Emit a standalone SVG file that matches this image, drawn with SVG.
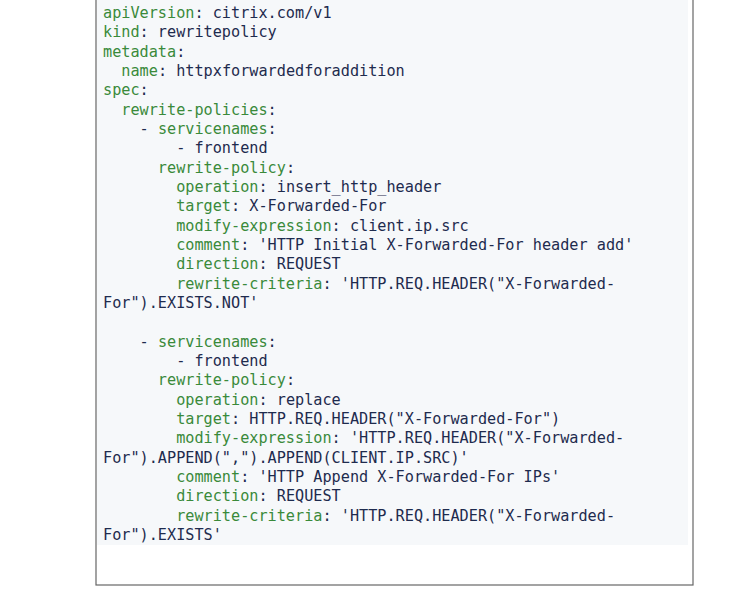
<svg xmlns="http://www.w3.org/2000/svg" width="750" height="609" viewBox="0 0 750 609">
<style>
text{font-family:"DejaVu Sans Mono","Liberation Mono",monospace;font-size:15.2px;fill:#1e2b4e;white-space:pre}
.k{fill:#3a8a3a}
</style>
<rect x="0" y="0" width="750" height="609" fill="#fff"/>
<rect x="96" y="-1" width="597" height="586" fill="#fff" stroke="#666" stroke-width="1.2"/>
<rect x="97" y="0" width="591" height="545" fill="#f6f8fa"/>
<g id="code" xml:space="preserve">
<text x="103" y="18"><tspan class="k">apiVersion</tspan>: citrix.com/v1</text>
<text x="103" y="37.3"><tspan class="k">kind</tspan>: rewritepolicy</text>
<text x="103" y="56.7"><tspan class="k">metadata</tspan>:</text>
<text x="103" y="76"><tspan class="k">  name</tspan>: httpxforwardedforaddition</text>
<text x="103" y="95.3"><tspan class="k">spec</tspan>:</text>
<text x="103" y="114.7"><tspan class="k">  rewrite-policies</tspan>:</text>
<text x="103" y="134">    - <tspan class="k">servicenames</tspan>:</text>
<text x="103" y="153.3">        - frontend</text>
<text x="103" y="172.7"><tspan class="k">      rewrite-policy</tspan>:</text>
<text x="103" y="192"><tspan class="k">        operation</tspan>: insert_http_header</text>
<text x="103" y="211.3"><tspan class="k">        target</tspan>: X-Forwarded-For</text>
<text x="103" y="230.7"><tspan class="k">        modify-expression</tspan>: client.ip.src</text>
<text x="103" y="250"><tspan class="k">        comment</tspan>: 'HTTP Initial X-Forwarded-For header add'</text>
<text x="103" y="269.3"><tspan class="k">        direction</tspan>: REQUEST</text>
<text x="103" y="288.7"><tspan class="k">        rewrite-criteria</tspan>: 'HTTP.REQ.HEADER("X-Forwarded-</text>
<text x="103" y="308">For").EXISTS.NOT'</text>
<text x="103" y="346.7">    - <tspan class="k">servicenames</tspan>:</text>
<text x="103" y="366">        - frontend</text>
<text x="103" y="385.3"><tspan class="k">      rewrite-policy</tspan>:</text>
<text x="103" y="404.7"><tspan class="k">        operation</tspan>: replace</text>
<text x="103" y="424"><tspan class="k">        target</tspan>: HTTP.REQ.HEADER("X-Forwarded-For")</text>
<text x="103" y="443.3"><tspan class="k">        modify-expression</tspan>: 'HTTP.REQ.HEADER("X-Forwarded-</text>
<text x="103" y="462.7">For").APPEND(",").APPEND(CLIENT.IP.SRC)'</text>
<text x="103" y="482"><tspan class="k">        comment</tspan>: 'HTTP Append X-Forwarded-For IPs'</text>
<text x="103" y="501.3"><tspan class="k">        direction</tspan>: REQUEST</text>
<text x="103" y="520.7"><tspan class="k">        rewrite-criteria</tspan>: 'HTTP.REQ.HEADER("X-Forwarded-</text>
<text x="103" y="540">For").EXISTS'</text>
</g>
</svg>
